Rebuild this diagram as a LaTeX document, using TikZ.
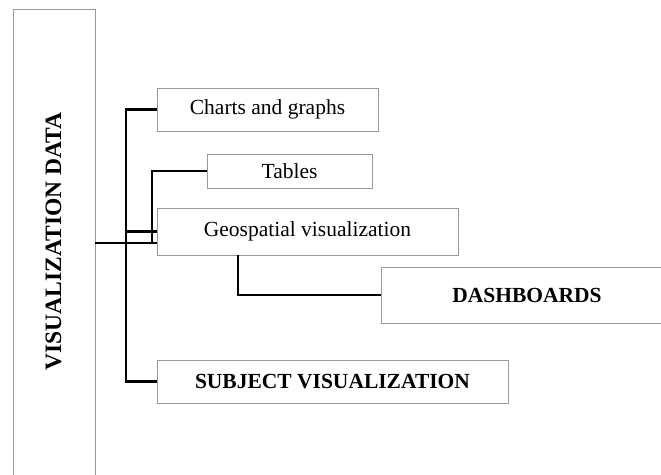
\documentclass[tikz,border=0pt]{standalone}
\usepackage{fontspec}
\setmainfont{Liberation Serif}
\begin{document}
\begin{tikzpicture}[x=1pt,y=-1pt,
  box/.style={draw=black!40,line width=0.9pt,rectangle,inner sep=0pt,
    font=\fontsize{21.5}{24}\selectfont},
  link/.style={draw=black,line width=2.7pt}]
\useasboundingbox (0,0) rectangle (661,474);
\clip (0,0) rectangle (661,474);
\fill[white] (0,0) rectangle (661,474);

% left column holding the vertical title
\node[box,minimum width=82pt,minimum height=467pt] (vd) at (54,242.5) {};
\node[rotate=90,font=\fontsize{23.5}{26}\selectfont\bfseries] (vdlabel) at (53.5,241.5) {VISUALIZATION DATA};

% branch boxes
\node[box,minimum width=221pt,minimum height=43pt] (charts) at (267.5,109.5) {Charts and graphs};
\node[box,minimum width=165pt,minimum height=34pt] (tables) at (289.5,171) {Tables};
\node[box,minimum width=301pt,minimum height=47pt] (geo) at (307.5,231.5) {Geospatial visualization};
\node[box,minimum width=292pt,minimum height=56pt,font=\fontsize{21.5}{24}\selectfont\bfseries] (dash) at (527,295) {DASHBOARDS};
\node[box,minimum width=351pt,minimum height=43pt,font=\fontsize{21.5}{24}\selectfont\bfseries] (subj) at (332.5,381.5) {SUBJECT VISUALIZATION};

% junction points of the connector tree
\coordinate (trunk) at (126,243);
\coordinate (tabjoin) at (152,243);
\coordinate (geodrop) at (238,0);

% connectors
\draw[link] (vd.east |- trunk) -- (geo.west |- trunk);
\draw[link] (charts.west) -| (trunk) |- (subj.west);
\draw[link] (tables.west) -| (tabjoin);
\draw[link] (trunk |- geo.west) -- (geo.west);
\draw[link] (geodrop |- geo.south) |- (dash.west);
\end{tikzpicture}
\end{document}
